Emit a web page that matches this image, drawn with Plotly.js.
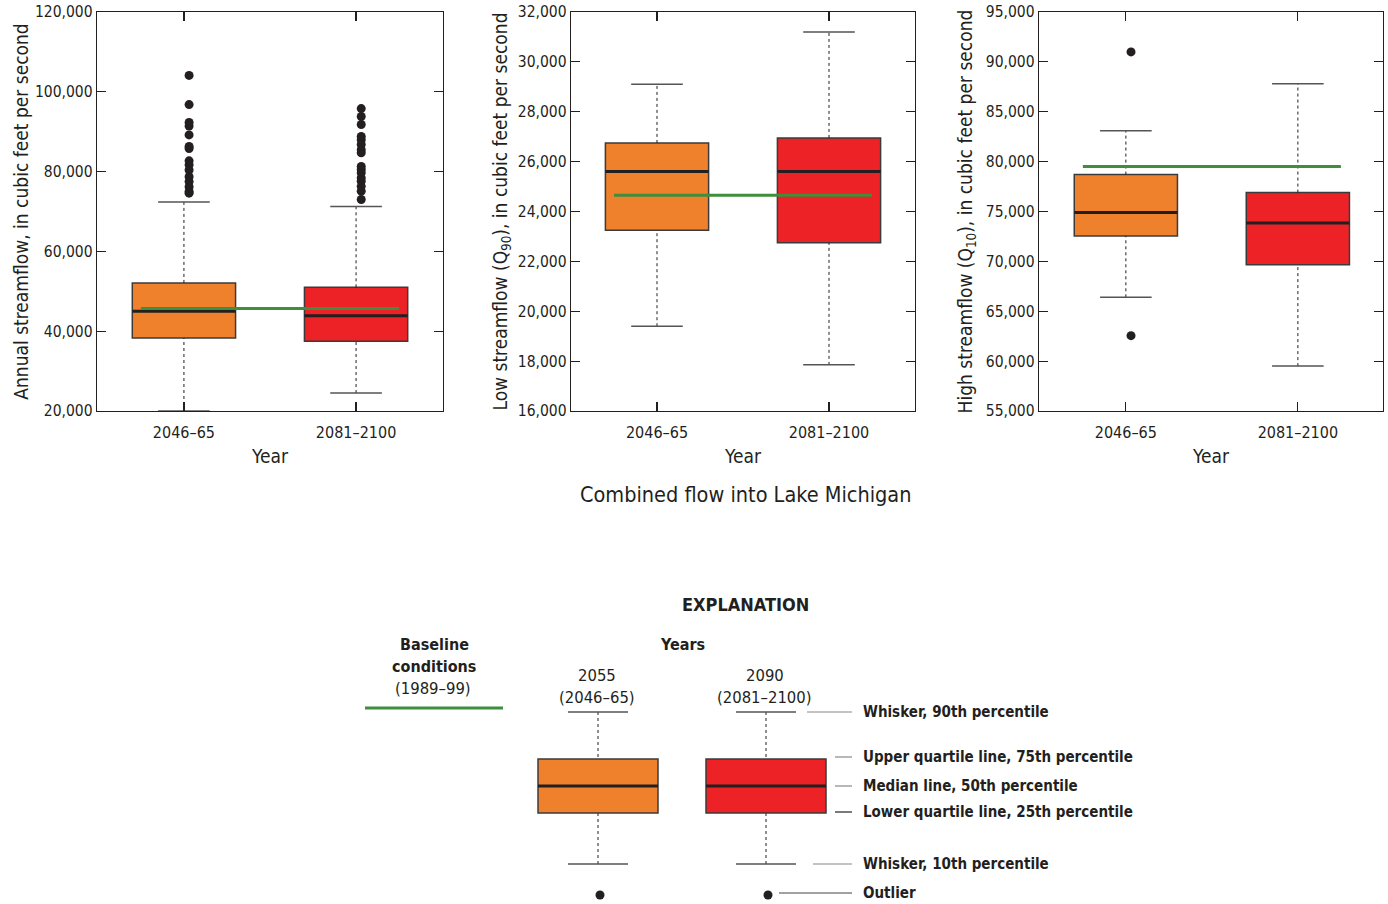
<!DOCTYPE html>
<html>
<head>
<meta charset="utf-8">
<script src="https://cdn.plot.ly/plotly-3.0.1.min.js"></script>
<style>
  html, body { margin: 0; padding: 0; background: #ffffff; }
  #chart { width: 1388px; height: 904px; }
</style>
</head>
<body>
<div id="chart"></div>
<script>
// Period labels shared by the three panels
const periods = ['2046\u201365', '2081\u20132100'];

// Annual streamflow (cubic feet per second)
const annualLower  = [20000, 24500];
const annualQ1     = [38300, 37500];
const annualMedian = [45000, 43900];
const annualQ3     = [52100, 51000];
const annualUpper  = [72400, 71250];
const annualBaseline = 45700;
const annualOutliers2055 = [104100, 96800, 92300, 91400, 89200, 86300, 85800, 82700, 81700, 80400, 78700, 77500, 76200, 75000, 74600];
const annualOutliers2090 = [95800, 93800, 91800, 88800, 88000, 86800, 85500, 84700, 81300, 80500, 79700, 78400, 77600, 76300, 75100, 73000];

// Low streamflow, Q90 (cubic feet per second)
const lowLower  = [19400, 17850];
const lowQ1     = [23250, 22750];
const lowMedian = [25600, 25600];
const lowQ3     = [26750, 26950];
const lowUpper  = [29100, 31200];
const lowBaseline = 24650;

// High streamflow, Q10 (cubic feet per second)
const highLower  = [66400, 59500];
const highQ1     = [72550, 69650];
const highMedian = [74900, 73850];
const highQ3     = [78700, 76900];
const highUpper  = [83100, 87800];
const highBaseline = 79500;
const highOutliers2055 = [91000, 62550];
const highOutliers2090 = [];

// Y-axis tick values for each panel
const annualTicks = [20000, 40000, 60000, 80000, 100000, 120000];
const lowTicks = [16000, 18000, 20000, 22000, 24000, 26000, 28000, 30000, 32000];
const highTicks = [55000, 60000, 65000, 70000, 75000, 80000, 85000, 90000, 95000];

// ---- styling ----
const FONT = '"DejaVu Sans Condensed", "Liberation Sans Narrow", "Arial Narrow", sans-serif';
const INK = '#231F20';
const ORANGE = '#F0812C';
const RED = '#EC2227';
const GREEN = '#3F8E3B';
const BOXLINE = '#3b3b3b';
const fills = [ORANGE, RED];
const W = 1388, H = 904;
const BOXW = 0.6, CAPW = 0.3;

const traces = [];

function panel(ax, lower, q1, med, q3, upper, baseline, outliers) {
  const xa = 'x' + ax, ya = 'y' + ax;
  // dashed whisker stems
  const sx = [], sy = [];
  // solid whisker caps
  const cx = [], cy = [];
  periods.forEach((p, i) => {
    sx.push(i, i, null, i, i, null);
    sy.push(lower[i], q1[i], null, q3[i], upper[i], null);
    cx.push(i - CAPW / 2, i + CAPW / 2, null, i - CAPW / 2, i + CAPW / 2, null);
    cy.push(lower[i], lower[i], null, upper[i], upper[i], null);
  });
  traces.push({type: 'scatter', mode: 'lines', x: sx, y: sy, xaxis: xa, yaxis: ya,
    line: {color: INK, width: 1, dash: '3px,3px'}, hoverinfo: 'skip', showlegend: false});
  traces.push({type: 'scatter', mode: 'lines', x: cx, y: cy, xaxis: xa, yaxis: ya,
    line: {color: '#555555', width: 1.5}, hoverinfo: 'skip', showlegend: false});
  // boxes (interquartile range)
  periods.forEach((p, i) => {
    traces.push({type: 'box', x: [i], q1: [q1[i]], median: [med[i]], q3: [q3[i]],
      lowerfence: [q1[i]], upperfence: [q3[i]], width: BOXW, whiskerwidth: 0,
      boxpoints: false, fillcolor: fills[i], line: {color: BOXLINE, width: 1.5},
      xaxis: xa, yaxis: ya, showlegend: false, hoverinfo: 'skip'});
  });
  // median lines
  const mx = [], my = [];
  periods.forEach((p, i) => {
    mx.push(i - BOXW / 2, i + BOXW / 2, null);
    my.push(med[i], med[i], null);
  });
  traces.push({type: 'scatter', mode: 'lines', x: mx, y: my, xaxis: xa, yaxis: ya,
    line: {color: INK, width: 3}, hoverinfo: 'skip', showlegend: false});
  // baseline (1989-99)
  traces.push({type: 'scatter', mode: 'lines', x: [-0.25, 1.25], y: [baseline, baseline],
    xaxis: xa, yaxis: ya, line: {color: GREEN, width: 3}, hoverinfo: 'skip', showlegend: false});
  // outliers
  outliers.forEach((vals, i) => {
    if (!vals.length) return;
    traces.push({type: 'scatter', mode: 'markers', x: vals.map(() => i + 0.03), y: vals,
      xaxis: xa, yaxis: ya, marker: {color: INK, size: 9}, hoverinfo: 'skip', showlegend: false});
  });
}

panel('', annualLower, annualQ1, annualMedian, annualQ3, annualUpper, annualBaseline,
  [annualOutliers2055, annualOutliers2090]);
panel('2', lowLower, lowQ1, lowMedian, lowQ3, lowUpper, lowBaseline, [[], []]);
panel('3', highLower, highQ1, highMedian, highQ3, highUpper, highBaseline,
  [highOutliers2055, highOutliers2090]);

// pixel -> paper helpers for page layout
const px = v => v / W;
const py = v => 1 - v / H;

function xAxis(domain, range) {
  return {
    domain: domain, range: range, tickvals: [0, 1], ticktext: periods,
    ticks: 'inside', ticklen: 9, tickcolor: INK, tickwidth: 1.2,
    showline: true, linecolor: INK, linewidth: 1.3, mirror: 'ticks',
    showgrid: false, zeroline: false, ticklabelstandoff: 6,
    tickfont: {family: FONT, size: 16, color: INK},
    title: {text: 'Year', font: {family: FONT, size: 19, color: INK}, standoff: 9}
  };
}
function yAxis(domain, range, ticks, title, standoff) {
  return {
    domain: domain, range: range, tickvals: ticks, tickformat: ',d',
    ticks: 'inside', ticklen: 9, tickcolor: INK, tickwidth: 1.2,
    showline: true, linecolor: INK, linewidth: 1.3, mirror: 'ticks',
    showgrid: false, zeroline: false,
    tickfont: {family: FONT, size: 15.5, color: INK},
    title: {text: title, font: {family: FONT, size: 19, color: INK}, standoff: standoff}
  };
}

const yDom = [py(411), py(12)];

const shapes = [];
const annotations = [];

// Figure caption under the middle panel
annotations.push({xref: 'paper', yref: 'paper', x: px(745), y: py(494), text: 'Combined flow into Lake Michigan',
  showarrow: false, font: {family: FONT, size: 21.5, color: INK}, xanchor: 'center', yanchor: 'middle'});

// ---- explanation key ----
function txt(x, y, t, size, opts) {
  annotations.push(Object.assign({xref: 'paper', yref: 'paper', x: px(x), y: py(y), text: t, showarrow: false,
    xanchor: 'center', yanchor: 'middle', font: {family: FONT, size: size, color: INK}}, opts || {}));
}
function seg(x0, y0, x1, y1, color, width, dash) {
  shapes.push({type: 'line', xref: 'paper', yref: 'paper', x0: px(x0), y0: py(y0), x1: px(x1), y1: py(y1),
    line: {color: color, width: width, dash: dash || 'solid'}});
}
txt(745, 604, '<b>EXPLANATION</b>', 18);
txt(434, 644, '<b>Baseline</b>', 16);
txt(434, 666, '<b>conditions</b>', 16);
txt(433, 688, '(1989\u201399)', 16.5);
seg(365, 708, 503, 708, GREEN, 3);
txt(682, 644, '<b>Years</b>', 16);
txt(597, 675, '2055', 16.5);
txt(597, 697, '(2046\u201365)', 16.5);
txt(765, 675, '2090', 16.5);
txt(765, 697, '(2081\u20132100)', 16.5);

[[598, ORANGE], [766, RED]].forEach(([cx, col]) => {
  seg(cx, 712, cx, 759, INK, 1, '3px,3px');
  seg(cx, 813, cx, 864, INK, 1, '3px,3px');
  seg(cx - 30, 712, cx + 30, 712, '#555555', 1.5);
  seg(cx - 30, 864, cx + 30, 864, '#555555', 1.5);
  shapes.push({type: 'rect', xref: 'paper', yref: 'paper', x0: px(cx - 60), x1: px(cx + 60), y0: py(813), y1: py(759),
    fillcolor: col, line: {color: BOXLINE, width: 1.5}});
  seg(cx - 60, 786, cx + 60, 786, INK, 3);
  shapes.push({type: 'circle', xref: 'paper', yref: 'paper', x0: px(cx - 2.5), x1: px(cx + 6.5), y0: py(899.5), y1: py(890.5),
    fillcolor: INK, line: {width: 0}});
});

const keyLabels = [
  [712, 807, 'Whisker, 90th percentile', '#888888'],
  [757, 835, 'Upper quartile line, 75th percentile', '#888888'],
  [786, 835, 'Median line, 50th percentile', '#888888'],
  [812, 835, 'Lower quartile line, 25th percentile', INK],
  [864, 813, 'Whisker, 10th percentile', '#888888'],
  [893, 779, 'Outlier', '#444444']
];
keyLabels.forEach(([y, x0, t, c]) => {
  seg(x0, y, 852, y, c, 1.2);
  txt(861, y, '<b>' + t + '</b>', 15, {xanchor: 'left'});
});

const layout = {
  width: W, height: H,
  margin: {l: 0, r: 0, t: 0, b: 0},
  paper_bgcolor: '#ffffff', plot_bgcolor: '#ffffff',
  showlegend: false,
  boxmode: 'overlay',
  font: {family: FONT, color: INK},
  xaxis: xAxis([px(97), px(443)], [-0.505, 1.505]),
  yaxis: yAxis(yDom, [20000, 120000], annualTicks, 'Annual streamflow, in cubic feet per second', 1),
  xaxis2: xAxis([px(571), px(915)], [-0.5, 1.5]),
  yaxis2: yAxis(yDom, [16000, 32000], lowTicks, 'Low streamflow (Q<sub>90</sub>), in cubic feet per second', 5),
  xaxis3: xAxis([px(1039), px(1383)], [-0.505, 1.495]),
  yaxis3: yAxis(yDom, [55000, 95000], highTicks, 'High streamflow (Q<sub>10</sub>), in cubic feet per second', 8),
  shapes: shapes,
  annotations: annotations
};
layout.xaxis2.anchor = 'y2'; layout.yaxis2.anchor = 'x2';
layout.xaxis3.anchor = 'y3'; layout.yaxis3.anchor = 'x3';

Plotly.newPlot('chart', traces, layout, {staticPlot: true, displayModeBar: false});
</script>
</body>
</html>
